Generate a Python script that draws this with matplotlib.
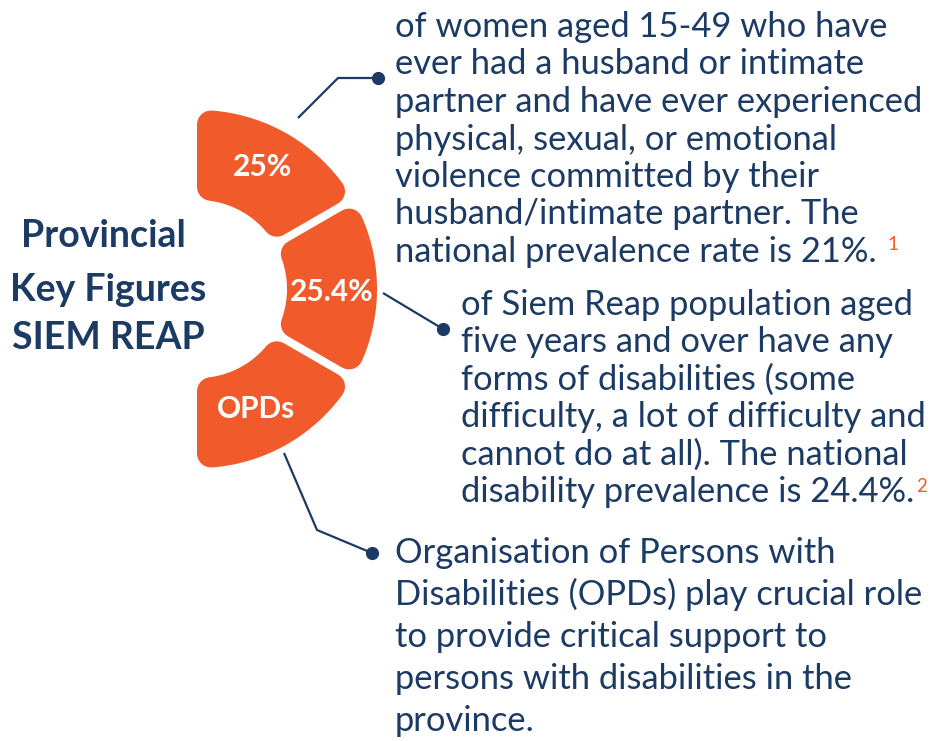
import numpy as np
import matplotlib
matplotlib.use("Agg")
import matplotlib.pyplot as plt
from matplotlib.patches import Polygon

W, H = 930, 741
NAVY = "#1b3a64"
ORANGE = "#f15a2b"
FONT = "Lato"

# ---- content ----
title_lines = ["Provincial", "Key Figures", "SIEM REAP"]
segment_labels = ["25%", "25.4%", "OPDs"]
para1 = ["of women aged 15-49 who have",
         "ever had a husband or intimate",
         "partner and have ever experienced",
         "physical, sexual, or emotional",
         "violence committed by their",
         "husband/intimate partner. The",
         "national prevalence rate is 21%."]
para2 = ["of Siem Reap population aged",
         "five years and over have any",
         "forms of disabilities (some",
         "difficulty, a lot of difficulty and",
         "cannot do at all). The national",
         "disability prevalence is 24.4%."]
para3 = ["Organisation of Persons with",
         "Disabilities (OPDs) play crucial role",
         "to provide critical support to",
         "persons with disabilities in the",
         "province."]
footnotes = ["1", "2"]

fig = plt.figure(figsize=(W / 100, H / 100), dpi=100)
ax = fig.add_axes([0, 0, 1, 1])
ax.set_xlim(0, W)
ax.set_ylim(H, 0)
ax.axis("off")

# ---- ring segments ----
cx, cy = 198, 289
r_in, r_out = 89, 179
rc = 14          # corner radius
g = 4            # half gap
xclip = 197
segments = [(30, None), (-30, 30), (None, -30)]  # angle bounds (deg); None = clipped at x=xclip


def seg_poly(a1, a2):
    Ro, Ri = r_out - rc, r_in + rc
    d = g + rc

    def lo(R):
        if a1 is None:
            return -np.degrees(np.arccos((xclip + rc - cx) / R))
        return a1 + np.degrees(np.arcsin(d / R))

    def hi(R):
        if a2 is None:
            return np.degrees(np.arccos((xclip + rc - cx) / R))
        return a2 - np.degrees(np.arcsin(d / R))

    to = np.radians(np.linspace(lo(Ro), hi(Ro), 80))
    ti = np.radians(np.linspace(hi(Ri), lo(Ri), 80))
    xs = np.concatenate([cx + Ro * np.cos(to), cx + Ri * np.cos(ti)])
    ys = np.concatenate([cy - Ro * np.sin(to), cy - Ri * np.sin(ti)])
    return np.column_stack([xs, ys])


lw = 2 * rc * 72 / 100
for a1, a2 in segments:
    p = Polygon(seg_poly(a1, a2), closed=True, facecolor=ORANGE, edgecolor=ORANGE,
                linewidth=lw, joinstyle="round")
    ax.add_patch(p)

label_pos = [(262, 167), (332, 292), (256, 409)]
for (x, y), s in zip(label_pos, segment_labels):
    ax.text(x, y, s, color="white", fontsize=21.5, fontweight="bold", family=FONT,
            ha="center", va="center")

# ---- title ----
for (x, y), s in zip([(103, 236), (108, 290), (108, 338)], title_lines):
    ax.text(x, y, s, color=NAVY, fontsize=27, fontweight="bold", family=FONT,
            ha="center", va="center")

# ---- connectors ----
conns = [[(298, 118), (338, 78), (378, 78)],
         [(383, 293), (443, 329)],
         [(284, 453), (317, 530), (372, 553)]]
for c in conns:
    xs, ys = zip(*c)
    ax.plot(xs, ys, color=NAVY, lw=1.6, solid_capstyle="butt")
    ax.plot(xs[-1], ys[-1], "o", color=NAVY, ms=8.5)

# ---- paragraphs ----
FS = 24.8


def para(lines, x, y0, dy):
    for i, s in enumerate(lines):
        ax.text(x, y0 + i * dy, s, color=NAVY, fontsize=FS, family=FONT,
                ha="left", va="baseline")


para(para1, 395, 37, 37.5)
para(para2, 461, 315, 37.4)
para(para3, 395, 563, 42)

ax.text(893, 244, footnotes[0], color=ORANGE, fontsize=13.5, family=FONT, ha="center", va="center")
ax.text(922, 487, footnotes[1], color=ORANGE, fontsize=13.5, family=FONT, ha="center", va="center")

fig.savefig("out.png", dpi=100)
